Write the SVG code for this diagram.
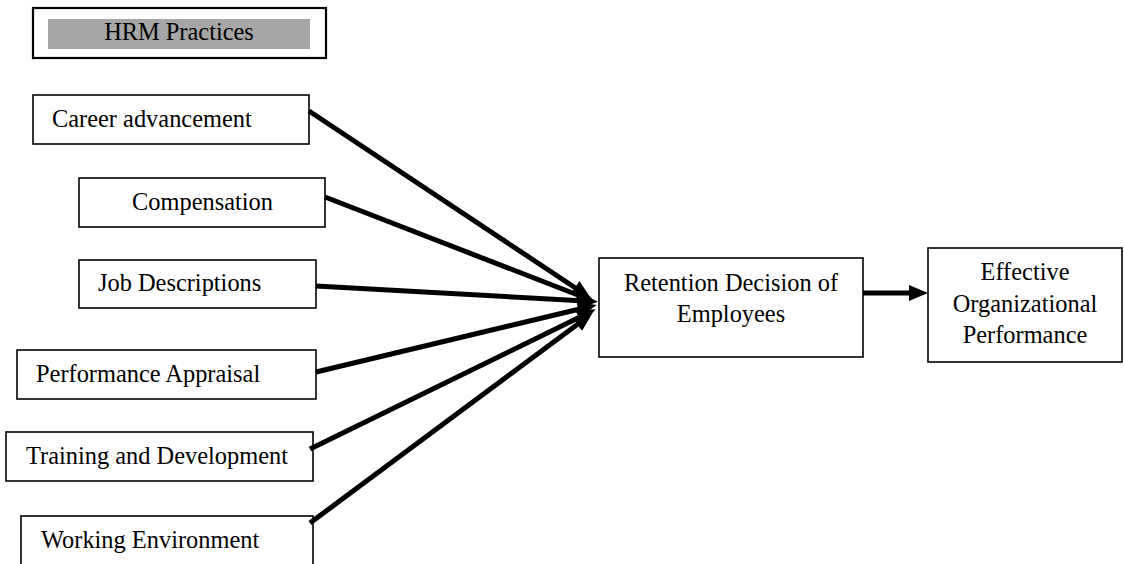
<svg xmlns="http://www.w3.org/2000/svg" width="1124" height="564" viewBox="0 0 1124 564">
  <style>
    .box { fill: #ffffff; stroke: #000000; stroke-width: 1.6; }
    .lbl { font-family: "Liberation Serif", "Times New Roman", serif; font-size: 24.4px; fill: #000000; }
    .ctr { text-anchor: middle; }
    .conn { stroke: #000000; stroke-width: 5; fill: none; marker-end: url(#arrow); }
  </style>
  <defs>
    <marker id="arrow" markerUnits="userSpaceOnUse" markerWidth="20" markerHeight="18" refX="6" refY="8" orient="auto">
      <path d="M0,0 L19,8 L0,16 z" fill="#000000"/>
    </marker>
  </defs>

  <g id="hrm-practices">
    <rect x="33" y="8" width="293" height="50" fill="#ffffff" stroke="#000000" stroke-width="2.2"/>
    <rect x="48" y="19" width="262" height="30" fill="#a6a6a6"/>
    <text class="lbl ctr" x="179" y="40">HRM Practices</text>
  </g>

  <g id="career-advancement">
    <rect class="box" x="33" y="95" width="276" height="49"/>
    <text class="lbl" x="52" y="127">Career advancement</text>
  </g>

  <g id="compensation">
    <rect class="box" x="79" y="178" width="246" height="49"/>
    <text class="lbl" x="132" y="210">Compensation</text>
  </g>

  <g id="job-descriptions">
    <rect class="box" x="79" y="260" width="237" height="48"/>
    <text class="lbl" x="98" y="291">Job Descriptions</text>
  </g>

  <g id="performance-appraisal">
    <rect class="box" x="17" y="350" width="299" height="49"/>
    <text class="lbl" x="36" y="382">Performance Appraisal</text>
  </g>

  <g id="training-development">
    <rect class="box" x="6" y="432" width="307" height="49"/>
    <text class="lbl" x="26" y="464">Training and Development</text>
  </g>

  <g id="working-environment">
    <rect class="box" x="21" y="516" width="292" height="60"/>
    <text class="lbl" x="41" y="548">Working Environment</text>
  </g>

  <g id="retention-decision">
    <rect class="box" x="599" y="258" width="264" height="99"/>
    <text class="lbl ctr" x="731" y="291">Retention Decision of</text>
    <text class="lbl ctr" x="731" y="322">Employees</text>
  </g>

  <g id="effective-performance">
    <rect class="box" x="928" y="248" width="194" height="114"/>
    <text class="lbl ctr" x="1025" y="280">Effective</text>
    <text class="lbl ctr" x="1025" y="312">Organizational</text>
    <text class="lbl ctr" x="1025" y="343">Performance</text>
  </g>

  <g id="connectors">
    <line class="conn" x1="309" y1="111" x2="580" y2="291"/>
    <line class="conn" x1="325" y1="197" x2="583" y2="297"/>
    <line class="conn" x1="316" y1="286" x2="585" y2="301"/>
    <line class="conn" x1="316" y1="372" x2="584" y2="308"/>
    <line class="conn" x1="310" y1="449" x2="584" y2="315"/>
    <line class="conn" x1="310" y1="523" x2="582" y2="321"/>
    <line class="conn" x1="863" y1="293" x2="915" y2="293"/>
  </g>
</svg>
